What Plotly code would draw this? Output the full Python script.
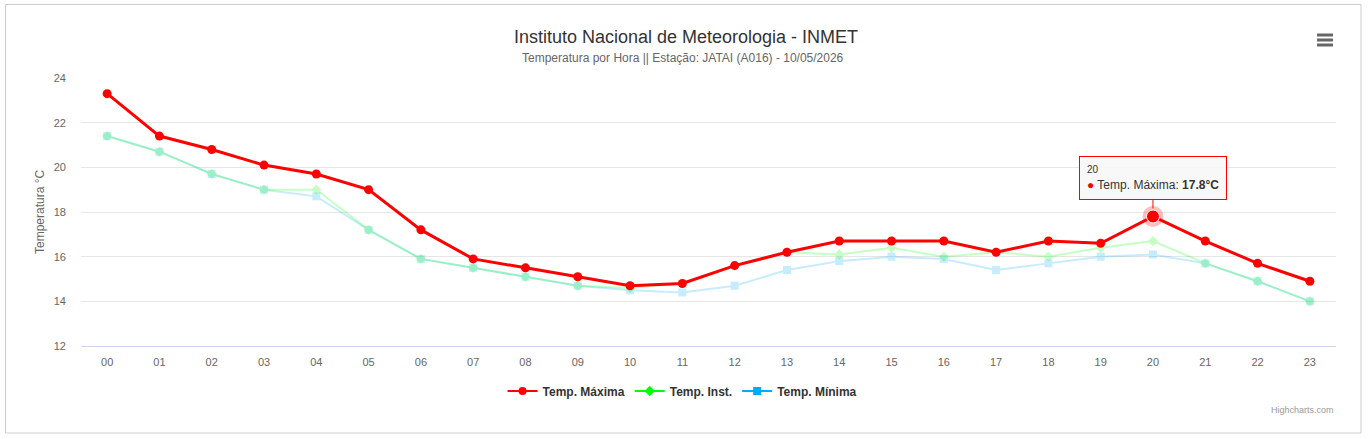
import plotly.graph_objects as go

hours = [f'{h:02d}' for h in range(24)]
temp_max = [23.3, 21.4, 20.8, 20.1, 19.7, 19.0, 17.2, 15.9, 15.5, 15.1, 14.7, 14.8,
            15.6, 16.2, 16.7, 16.7, 16.7, 16.2, 16.7, 16.6, 17.8, 16.7, 15.7, 14.9]
temp_inst = [21.4, 20.7, 19.7, 19.0, 19.0, 17.2, 15.9, 15.5, 15.1, 14.7, 14.6, 14.8,
             15.6, 16.2, 16.1, 16.4, 16.0, 16.2, 16.0, 16.4, 16.7, 15.7, 14.9, 14.0]
temp_min = [21.4, 20.7, 19.7, 19.0, 18.7, 17.2, 15.9, 15.5, 15.1, 14.7, 14.5, 14.4,
            14.7, 15.4, 15.8, 16.0, 15.9, 15.4, 15.7, 16.0, 16.1, 15.7, 14.9, 14.0]
hover_idx = 20

W, H = 1372, 439
L, R, T, B = 81, 1336, 78, 346


def px_x(x):
    return (x - L) / (R - L)


def px_y(y):
    return (B - y) / (B - T)


FONT = 'Liberation Sans, Arial, sans-serif'
RED = '#ff0000'
GREEN = '#00ff00'
BLUE = '#00aaff'

fig = go.Figure()

# faded series (the hovered one stays strong)
fig.add_trace(go.Scatter(
    x=hours, y=temp_min, mode='lines+markers', showlegend=False,
    line=dict(color=BLUE, width=2), marker=dict(symbol='square', size=8, color=BLUE),
    opacity=0.22, hoverinfo='skip'))
fig.add_trace(go.Scatter(
    x=hours, y=temp_inst, mode='lines+markers', showlegend=False,
    line=dict(color=GREEN, width=2), marker=dict(symbol='diamond', size=8, color=GREEN),
    opacity=0.22, hoverinfo='skip'))
fig.add_trace(go.Scatter(
    x=hours, y=temp_max, mode='lines+markers', showlegend=False,
    line=dict(color=RED, width=3), marker=dict(symbol='circle', size=9, color=RED),
    hoverinfo='skip'))

# hover halo on the highlighted point
fig.add_trace(go.Scatter(
    x=[hours[hover_idx]], y=[temp_max[hover_idx]], mode='markers', showlegend=False,
    marker=dict(size=21, color='rgba(255,0,0,0.25)'), hoverinfo='skip'))
fig.add_trace(go.Scatter(
    x=[hours[hover_idx]], y=[temp_max[hover_idx]], mode='markers', showlegend=False,
    marker=dict(size=13, color=RED, line=dict(color='white', width=1)), hoverinfo='skip'))

# legend entries at full colour
for name, color, sym in [('Temp. Máxima', RED, 'circle'),
                         ('Temp. Inst.', GREEN, 'diamond'),
                         ('Temp. Mínima', BLUE, 'square')]:
    fig.add_trace(go.Scatter(
        x=[None], y=[None], mode='lines+markers', name=name,
        line=dict(color=color, width=2), marker=dict(symbol=sym, size=8, color=color)))

fig.update_layout(
    width=W, height=H,
    margin=dict(l=L, r=W - R, t=T, b=H - B, pad=0, autoexpand=False),
    paper_bgcolor='white', plot_bgcolor='white',
    font=dict(family=FONT, color='#666666'),
    title=dict(text='Instituto Nacional de Meteorologia - INMET',
               x=0.5, xref='container', xanchor='center',
               y=1 - 37 / H, yref='container', yanchor='middle',
               font=dict(size=18, color='#333333', family=FONT)),
    showlegend=True,
    legend=dict(orientation='h', xref='container', x=0.4975, xanchor='center',
                yref='container', y=1 - 391 / H, yanchor='middle',
                font=dict(size=12, color='#333333', family=FONT, weight='bold'),
                itemwidth=30, tracegroupgap=0, bgcolor='rgba(0,0,0,0)'),
    hovermode=False,
)

fig.update_xaxes(
    type='category', range=[-0.5, 23.5], showgrid=False,
    showline=True, linecolor='#ccd6eb', linewidth=1, ticks='',
    tickfont=dict(size=11, color='#666666'), ticklabelstandoff=6, fixedrange=True)
fig.update_yaxes(
    range=[12, 24], dtick=2, showgrid=True, gridcolor='#e6e6e6', gridwidth=1,
    zeroline=False, showline=False, ticks='',
    tickfont=dict(size=11, color='#666666'), ticklabelstandoff=14, fixedrange=True)

annotations = [
    dict(text='Temperatura por Hora || Estação: JATAI (A016) - 10/05/2026',
         xref='paper', yref='paper', x=px_x(683), y=px_y(58),
         xanchor='center', yanchor='middle', showarrow=False,
         font=dict(size=12, color='#666666')),
    dict(text='Temperatura °C', textangle=-90,
         xref='paper', yref='paper', x=px_x(40), y=px_y(212),
         xanchor='center', yanchor='middle', showarrow=False,
         font=dict(size=12, color='#666666')),
    dict(text='Highcharts.com',
         xref='paper', yref='paper', x=px_x(1336), y=px_y(410),
         xanchor='right', yanchor='middle', showarrow=False,
         font=dict(size=9, color='#999999')),
    dict(text=f'<span style="font-size:10px">{hours[hover_idx]}</span><br>'
              f'<span style="color:{RED}">●</span> Temp. Máxima: <b>{temp_max[hover_idx]}°C</b>',
         x=hours[hover_idx], y=temp_max[hover_idx], xref='x', yref='y',
         showarrow=True, arrowhead=0, arrowwidth=1, arrowcolor=RED,
         ax=0, ay=-38, standoff=8, align='left',
         bgcolor='rgba(247,247,247,0.92)', bordercolor=RED, borderwidth=1, borderpad=7,
         font=dict(size=12, color='#333333')),
]
fig.update_layout(annotations=annotations)

shapes = [
    dict(type='rect', xref='paper', yref='paper',
         x0=px_x(5.5), x1=px_x(1361), y0=px_y(433), y1=px_y(4.5),
         line=dict(color='#cccccc', width=1), fillcolor='rgba(0,0,0,0)', layer='below'),
]
for yy in [35, 40, 45]:
    shapes.append(dict(type='line', xref='paper', yref='paper',
                       x0=px_x(1317), x1=px_x(1333), y0=px_y(yy), y1=px_y(yy),
                       line=dict(color='#666666', width=3)))
fig.update_layout(shapes=shapes)

fig.write_html('out.html', config=dict(displayModeBar=False),
               post_script="document.body.style.margin='0';")
